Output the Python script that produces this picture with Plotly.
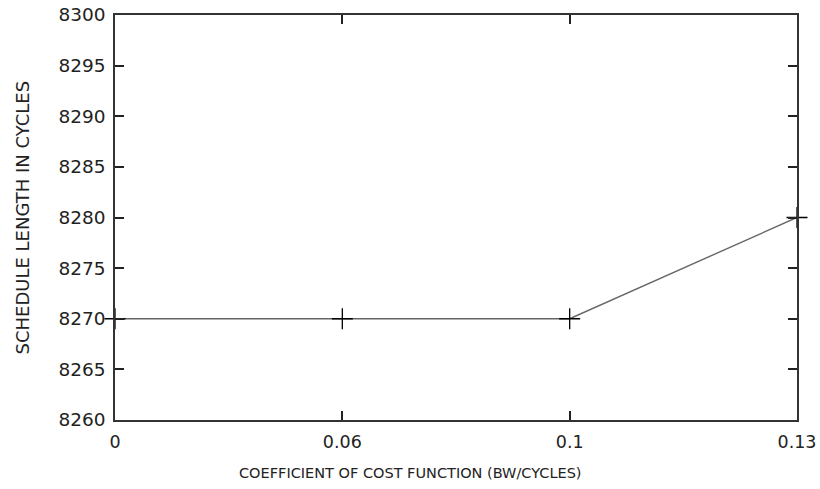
import plotly.graph_objects as go

x_labels = ["0", "0.06", "0.1", "0.13"]
schedule_length = [8270, 8270, 8270, 8280]
y_ticks = [8260, 8265, 8270, 8275, 8280, 8285, 8290, 8295, 8300]

fig = go.Figure()
fig.add_trace(go.Scatter(
    x=list(range(len(x_labels))), y=schedule_length,
    mode="lines+markers",
    line=dict(color="#666666", width=1.4),
    marker=dict(symbol="cross-thin-open", size=15, color="black",
                line=dict(color="black", width=1.3)),
    showlegend=False, cliponaxis=False,
))

fig.update_layout(
    width=820, height=489,
    margin=dict(l=115, r=23, t=15, b=69),
    paper_bgcolor="white", plot_bgcolor="white",
    font=dict(family="DejaVu Sans, Verdana, sans-serif", size=16, color="#222"),
)
fig.update_xaxes(
    range=[0, len(x_labels) - 1],
    tickvals=list(range(len(x_labels))), ticktext=x_labels,
    ticks="inside", ticklen=9, tickwidth=1.5, tickcolor="#222",
    showline=True, linecolor="#333", linewidth=1.5, mirror="ticks",
    showgrid=False, zeroline=False, automargin=False,
    tickfont=dict(size=17.5), ticklabelstandoff=5,
)
fig.update_yaxes(
    range=[8260, 8300],
    tickvals=y_ticks,
    ticks="inside", ticklen=9, tickwidth=1.5, tickcolor="#222",
    showline=True, linecolor="#333", linewidth=1.5, mirror="ticks",
    showgrid=False, zeroline=False, automargin=False,
    tickfont=dict(size=18.5), ticklabelstandoff=4,
)
fig.add_annotation(
    text="COEFFICIENT OF COST FUNCTION (BW/CYCLES)",
    xref="paper", yref="paper", x=(410 - 115) / 682, y=0, yshift=-53,
    showarrow=False, font=dict(size=14.5, color="#222"),
    xanchor="center", yanchor="middle",
)
fig.add_annotation(
    text="SCHEDULE LENGTH IN CYCLES",
    xref="paper", yref="paper", x=0, y=0.5, xshift=-93,
    showarrow=False, textangle=-90, font=dict(size=18, color="#222"),
    xanchor="center", yanchor="middle",
)
fig.write_html("out.html")
